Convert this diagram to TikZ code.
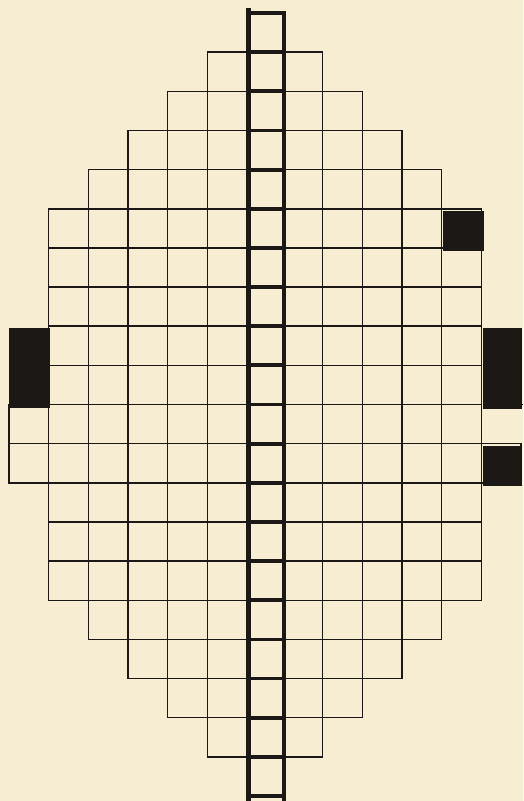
\documentclass[tikz,border=0pt]{standalone}
\usepackage{xcolor}
\definecolor{paper}{RGB}{247,237,210}
\definecolor{ink}{RGB}{28,24,22}
\tikzset{
  cell/.style={draw=ink, line width=1.5pt},
  blackcell/.style={fill=ink, draw=ink, line width=1pt},
  rail/.style={draw=ink, line width=4.8pt},
  rung/.style={draw=ink, line width=3.8pt},
}
\begin{document}
\begin{tikzpicture}[x=1pt,y=-1pt]
\useasboundingbox (0,0) rectangle (523,801);
\fill[paper] (0,0) rectangle (523,801);
% grid cells: row r spans y=13+39.15r .. 13+39.15(r+1); n cells each side
\foreach \r/\n in {1/1,2/2,3/3,4/4,5/5,6/5,7/5,8/5,9/5,11/6,12/5,13/5,14/5,15/4,16/3,17/2,18/1}{
  \foreach \k in {1,...,\n}{
    \draw[cell] ({247-39.67*\k},{13+39.15*\r}) rectangle ({247-39.67*(\k-1)},{13+39.15*(\r+1)});
    \draw[cell] ({283+39.67*(\k-1)},{13+39.15*\r}) rectangle ({283+39.67*\k},{13+39.15*(\r+1)});
  }
}
% row 10: six cells left, five and an open-ended sixth on the right
\foreach \k in {1,...,6}{
  \draw[cell] ({247-39.67*\k},{13+39.15*10}) rectangle ({247-39.67*(\k-1)},{13+39.15*11});
}
\foreach \k in {1,...,5}{
  \draw[cell] ({283+39.67*(\k-1)},{13+39.15*10}) rectangle ({283+39.67*\k},{13+39.15*11});
}
\draw[cell] (483,{13+39.15*10}) -- (523,{13+39.15*10});
% black cells
\draw[blackcell] (9,328) rectangle (49.5,407);
\draw[blackcell] (443.5,211) rectangle (483,250);
\draw[blackcell] (483,328) rectangle (521,408);
\draw[blackcell] (483,446) rectangle (521,485);
% ladder rungs
\foreach \r in {0,...,20}{
  \draw[rung] (248,{13+39.15*\r}) -- (284,{13+39.15*\r});
}
% ladder rails
\draw[rail] (248.5,8) coordinate (lt) -- (248.5,801) coordinate (lb);
\draw[rail] (284,11) coordinate (rt) -- (284,801) coordinate (rb);
\end{tikzpicture}
\end{document}
